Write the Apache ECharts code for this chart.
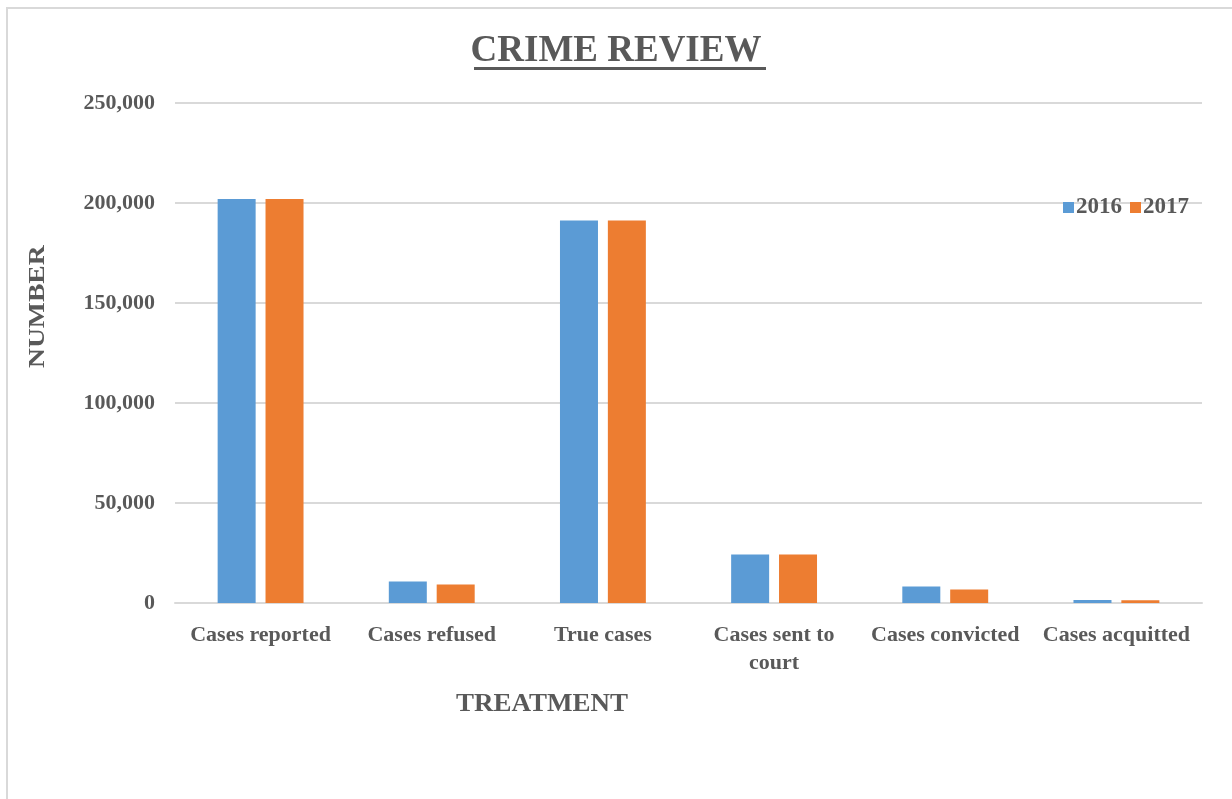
<!DOCTYPE html>
<html>
<head>
<meta charset="utf-8">
<title>Crime Review</title>
<script src="https://cdn.jsdelivr.net/npm/echarts@6/dist/echarts.min.js"></script>
<style>
  html, body { margin: 0; padding: 0; background: #fff; overflow: hidden; }
  .frame {
    position: absolute; left: 6px; top: 7px; width: 1300px; height: 900px;
    border-left: 2px solid #d9d9d9; border-top: 2px solid #d9d9d9;
  }
  #chart { position: absolute; left: 0; top: 0; width: 1232px; height: 799px; }
</style>
</head>
<body>
<div class="frame"></div>
<div id="chart"></div>
<script>
// data
var categories = ['Cases reported', 'Cases refused', 'True cases', 'Cases sent to court', 'Cases convicted', 'Cases acquitted'];
var years = ['2016', '2017'];
var values2016 = [202000, 10700, 191200, 24200, 8200, 1500];
var values2017 = [202000, 9300, 191200, 24200, 6800, 1400];
var yTicks = [0, 50000, 100000, 150000, 200000, 250000];

var textColor = '#595959';
var serif = '"Liberation Serif", "Times New Roman", serif';

var myChart = echarts.init(document.getElementById('chart'));

var option = {
  animation: false,
  color: ['#5b9bd5', '#ed7d31'],
  textStyle: { fontFamily: serif },
  legend: {
    data: years,
    right: 38,
    top: 191,
    itemWidth: 11,
    itemHeight: 11,
    itemGap: 8,
    icon: 'rect',
    textStyle: { color: textColor, fontSize: 23, fontWeight: 'bold', fontFamily: serif, padding: [0, 0, 0, -3] }
  },
  grid: { left: 175, right: 30, top: 103, bottom: 196, containLabel: false },
  xAxis: {
    type: 'category',
    data: categories,
    axisTick: { show: false },
    axisLine: { lineStyle: { color: '#d9d9d9', width: 2 } },
    axisLabel: {
      color: textColor,
      fontSize: 22,
      fontWeight: 'bold',
      fontFamily: serif,
      margin: 18,
      lineHeight: 28,
      interval: 0,
      formatter: function (v) {
        // Excel wrapped this one onto two lines
        return v === 'Cases sent to court' ? 'Cases sent to\ncourt' : v;
      }
    }
  },
  yAxis: {
    type: 'value',
    min: yTicks[0],
    max: yTicks[yTicks.length - 1],
    interval: 50000,
    axisLine: { show: false },
    axisTick: { show: false },
    splitLine: { lineStyle: { color: '#d9d9d9', width: 2 } },
    axisLabel: {
      color: textColor,
      fontSize: 22,
      fontWeight: 'bold',
      fontFamily: serif,
      margin: 20,
      formatter: function (v) { return v.toLocaleString('en-US'); }
    }
  },
  series: [
    { name: years[0], type: 'bar', data: values2016, barWidth: 38, barGap: '26%' },
    { name: years[1], type: 'bar', data: values2017, barWidth: 38 }
  ],
  graphic: [
    {
      type: 'text', left: 'center', top: 33,
      style: { text: 'CRIME REVIEW', fill: textColor, font: 'bold 37px ' + serif }
    },
    {
      type: 'rect', shape: { x: 474, y: 67, width: 292, height: 3 },
      style: { fill: textColor }
    },
    {
      type: 'text', x: 26, y: 368, rotation: Math.PI / 2, scaleX: 1.15,
      style: { text: 'NUMBER', fill: textColor, font: 'bold 24px ' + serif }
    },
    {
      type: 'text', x: 456, y: 692, scaleX: 1.08,
      style: { text: 'TREATMENT', fill: textColor, font: 'bold 25px ' + serif }
    }
  ]
};

myChart.setOption(option);
</script>
</body>
</html>
